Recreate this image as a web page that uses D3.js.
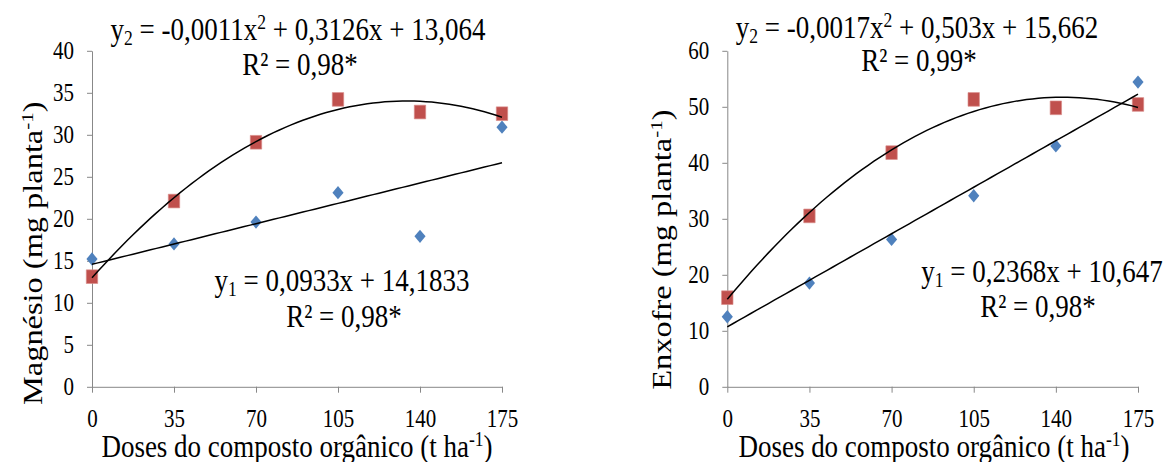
<!DOCTYPE html>
<html>
<head>
<meta charset="utf-8">
<script src="https://cdn.jsdelivr.net/npm/d3@7"></script>
<style>
body { margin: 0; background: #fff; }
text { font-family: "Liberation Serif", "Times New Roman", serif; fill: #000; }
.axis path, .axis line { stroke: #888; vector-effect: non-scaling-stroke; }
.trend { fill: none; stroke: #000; stroke-width: 1.5; vector-effect: non-scaling-stroke; }
</style>
</head>
<body>
<div class="chartContainer"></div>
<script>
// values
var doses = [0, 35, 70, 105, 140, 175]
var mgY1 = [15.2, 17.0, 19.6, 23.1, 17.9, 30.9]
var mgY2 = [13.1, 22.1, 29.1, 34.2, 32.7, 32.5]
var sY1 = [12.5, 18.5, 26.3, 34.1, 43.0, 54.4]
var sY2 = [15.9, 30.5, 41.8, 51.3, 49.8, 50.4]
var mgTicks = [0, 5, 10, 15, 20, 25, 30, 35, 40]
var sTicks = [0, 10, 20, 30, 40, 50, 60]
var xLabel = 'Doses do composto orgânico (t ha'

// the original picture is stretched vertically, so draw in a squashed viewBox
var W = 1167, H = 462, VH = 385

var svg = d3.select('.chartContainer')
    .append('svg')
    .attr('width', W)
    .attr('height', H)
    .attr('viewBox', '0 0 ' + W + ' ' + VH)
    .attr('preserveAspectRatio', 'none')

function linFit(xs, ys) {
    var mx = d3.mean(xs), my = d3.mean(ys)
    var sxy = d3.sum(xs, (x, i) => (x - mx) * (ys[i] - my))
    var sxx = d3.sum(xs, x => (x - mx) * (x - mx))
    var b = sxy / sxx
    return x => my + b * (x - mx)
}

function quadFit(xs, ys) {
    // normal equations, solved by elimination
    var S = [0, 0, 0, 0, 0], T = [0, 0, 0]
    xs.forEach((x, i) => {
        for (var k = 0; k < 5; k++) S[k] += Math.pow(x, k)
        for (var k = 0; k < 3; k++) T[k] += Math.pow(x, k) * ys[i]
    })
    var A = [[S[0], S[1], S[2], T[0]], [S[1], S[2], S[3], T[1]], [S[2], S[3], S[4], T[2]]]
    for (var c = 0; c < 3; c++) {
        for (var r = c + 1; r < 3; r++) {
            var f = A[r][c] / A[c][c]
            for (var k = c; k < 4; k++) A[r][k] -= f * A[c][k]
        }
    }
    var s = [0, 0, 0]
    for (var r = 2; r >= 0; r--) {
        var v = A[r][3]
        for (var k = r + 1; k < 3; k++) v -= A[r][k] * s[k]
        s[r] = v / A[r][r]
    }
    return x => s[0] + s[1] * x + s[2] * x * x
}

// parts: [text, kind] with kind '' | 'sub' | 'sup'
function richText(g, parts, x, y, size, anchor) {
    var t = g.append('text')
        .attr('x', x)
        .attr('y', y)
        .attr('font-size', size)
        .attr('text-anchor', anchor || 'middle')
    parts.forEach(p => {
        var ts = t.append('tspan').text(p[0])
        if (p[1] == 'sub') ts.attr('font-size', size * 0.65).attr('baseline-shift', -size * 0.18)
        if (p[1] == 'sup') ts.attr('font-size', size * 0.65).attr('baseline-shift', size * 0.34)
    })
    return t
}

function panel(opt) {
    var g = svg.append('g')
    var x = d3.scaleLinear().domain([0, 175]).range([opt.x0, opt.x1])
    var y = d3.scaleLinear().domain([0, opt.ticks[opt.ticks.length - 1]]).range([322.25, 42.25])

    g.append('g')
        .classed('axis', true)
        .attr('transform', 'translate(0,' + y(0) + ')')
        .call(d3.axisBottom(x).tickValues(doses).tickSize(5).tickSizeOuter(0).tickPadding(13.5))
        .call(a => a.selectAll('text').attr('font-size', 21).style('font-family', 'Liberation Serif'))

    g.append('g')
        .classed('axis', true)
        .attr('transform', 'translate(' + x(0) + ',0)')
        .call(d3.axisLeft(y).tickValues(opt.ticks).tickSize(5).tickSizeOuter(0).tickPadding(13))
        .call(a => a.selectAll('text').attr('font-size', 21).style('font-family', 'Liberation Serif'))

    // markers
    g.selectAll('path.y1')
        .data(opt.y1)
        .enter()
        .append('path')
        .classed('y1', true)
        .attr('d', d3.symbol(d3.symbolSquare, 62)())
        .attr('fill', '#4F81BD')
        .attr('transform', (d, i) => 'translate(' + x(doses[i]) + ',' + y(d) + ') rotate(45)')

    g.selectAll('path.y2')
        .data(opt.y2)
        .enter()
        .append('path')
        .classed('y2', true)
        .attr('d', d3.symbol(d3.symbolSquare, 130)())
        .attr('fill', '#C0504D')
        .attr('stroke', '#d98c8a')
        .attr('stroke-width', 0.6)
        .attr('transform', (d, i) => 'translate(' + x(doses[i]) + ',' + y(d) + ')')

    // trend lines
    var xs = d3.range(0, 175.01, 2.5)
    var f1 = linFit(doses, opt.y1), f2 = quadFit(doses, opt.y2)
    var line = f => d3.line().x(d => x(d)).y(d => y(f(d)))(xs)
    g.append('path').classed('trend', true).attr('d', line(f1))
    g.append('path').classed('trend', true).attr('d', line(f2))

    // equations
    richText(g, [['y', ''], ['2', 'sub'], [' = ' + opt.eq2 + 'x', ''], ['2', 'sup'], [' + ' + opt.eq2b, '']],
        opt.e2x, opt.e2y, 27)
    richText(g, [['R² = ' + opt.r2, '']], opt.e2x + 2, opt.e2y + opt.e2gap, 27)
    richText(g, [['y', ''], ['1', 'sub'], [' = ' + opt.eq1, '']], opt.e1x, opt.e1y, 27)
    richText(g, [['R² = ' + opt.r1, '']], opt.e1x + opt.r1dx, opt.e1y + 29.75, 27)

    // axis titles
    richText(g, [[xLabel, ''], ['-1', 'sup'], [')', '']], opt.xtx, 381, 27)
    richText(g, [[opt.yLabel, ''], ['-1', 'sup'], [')', '']], 0, 0, 27)
        .attr('transform', 'translate(' + opt.ytx + ',' + opt.yty + ') rotate(-90)')
}

panel({
    x0: 92, x1: 502, ticks: mgTicks, y1: mgY1, y2: mgY2,
    eq2: '-0,0011', eq2b: '0,3126x + 13,064', r2: '0,98*',
    e2x: 298, e2y: 33.3, e2gap: 29.2,
    eq1: '0,0933x + 14,1833', r1: '0,98*', e1x: 342, e1y: 242.5, r1dx: 2,
    xtx: 297, yLabel: 'Magnésio (mg planta', ytx: 42, yty: 211
})

panel({
    x0: 727.3, x1: 1138, ticks: sTicks, y1: sY1, y2: sY2,
    eq2: '-0,0017', eq2b: '0,503x + 15,662', r2: '0,99*',
    e2x: 917, e2y: 31.3, e2gap: 27.6,
    eq1: '0,2368x + 10,647', r1: '0,98*', e1x: 1042, e1y: 234.75, r1dx: -4,
    xtx: 934, yLabel: 'Enxofre (mg planta', ytx: 671, yty: 208
})
</script>
</body>
</html>
